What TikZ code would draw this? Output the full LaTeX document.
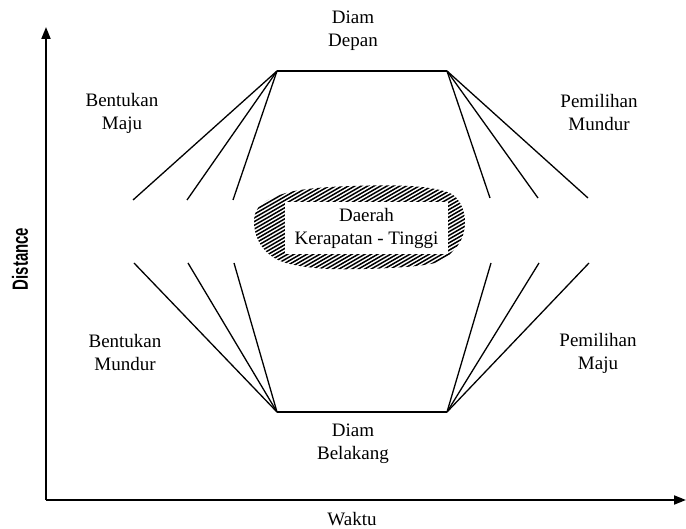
\documentclass[tikz,border=0pt]{standalone}
\usepackage{fontspec}
\setmainfont{Liberation Serif}
\setsansfont{Liberation Sans}
\usetikzlibrary{positioning, arrows.meta, calc}
\tikzstyle{axis} = [line width=1.8pt,-{Triangle[length=12pt,width=9pt]}]
\tikzstyle{track} = [line width=1.3pt]
\tikzstyle{phase} = [align=center, inner sep=0pt, font=\fontsize{19}{23}\selectfont]
\tikzstyle{hatch} = [line width=1.5pt]

\begin{document}
\begin{tikzpicture}[x=1pt, y=-1pt]
        \useasboundingbox (0,0) rectangle (686,529);
        % axes
        \coordinate (origin) at (46,500);
        \coordinate (ytip) at (46,27);
        \coordinate (xtip) at (686,500);
        \draw [axis] (origin) -- (ytip);
        \draw [axis] (origin) -- (xtip);
        \node (distance) [rotate=90, inner sep=0pt, font=\sffamily\bfseries\fontsize{22}{24}\selectfont] at (20,259) {\scalebox{0.68}[1]{Distance}};
        \node (waktu) [phase] at (352,519) {Waktu};

        % corners of the stationary lines
        \coordinate (tl) at (277,71);
        \coordinate (tr) at (447,71);
        \coordinate (bl) at (277,412);
        \coordinate (br) at (447,412);
        \draw [track] (tl) -- (tr);
        \draw [track] (bl) -- (br);

        % fans
        \foreach \x [count=\i] in {133,187,233} {
            \coordinate (ul\i) at (\x,200);
            \coordinate (ll\i) at (\x+1,263);
            \draw [track] (tl) -- (ul\i);
            \draw [track] (bl) -- (ll\i);
        }
        \foreach \x [count=\i] in {490,538,588} {
            \coordinate (ur\i) at (\x,198);
            \coordinate (lr\i) at (\x+1,263);
            \draw [track] (tr) -- (ur\i);
            \draw [track] (br) -- (lr\i);
        }

        % high density region
        \begin{scope}
            \clip plot[smooth cycle, tension=0.6] coordinates {(254,222) (258,208) (272,198) (300,190) (350,186) (410,186) (447,192) (460,203) (465,220) (462,238) (452,252) (435,263) (390,268) (330,269) (290,264) (270,255) (258,240)};
            \foreach \k in {0,...,62}
                \draw [hatch] (240,178+\k*3.7) -- ++(240,-138);
        \end{scope}
        \node (dense) [phase, fill=white, minimum width=163pt, minimum height=52pt] at (366.5,228) {Daerah\\Kerapatan - Tinggi};

        % labels
        \node (front) [phase] at (353,31) {Diam\\Depan};
        \node (back) [phase] at (353,444) {Diam\\Belakang};
        \node (fwdform) [phase] at (122,113) {Bentukan\\Maju};
        \node (bwdpick) [phase] at (599,113) {Pemilihan\\Mundur};
        \node (bwdform) [phase] at (125,353) {Bentukan\\Mundur};
        \node (fwdpick) [phase] at (598,353) {Pemilihan\\Maju};
\end{tikzpicture}
\end{document}
